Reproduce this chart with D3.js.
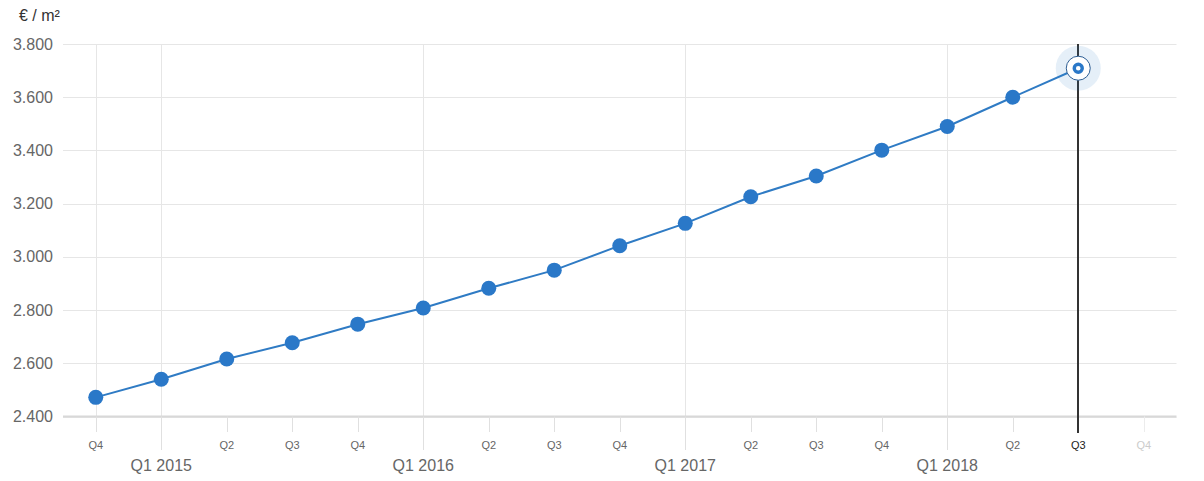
<!DOCTYPE html>
<html>
<head>
<meta charset="utf-8">
<script src="https://cdn.jsdelivr.net/npm/d3@7"></script>
<style>
  html, body { margin: 0; padding: 0; background: #fff; }
  svg { display: block; font-family: "Liberation Sans", Arial, sans-serif; }
</style>
</head>
<body>
<svg id="chart" width="1204" height="481"></svg>
<script>
// Data
const quarters = ["Q4 2014","Q1 2015","Q2 2015","Q3 2015","Q4 2015","Q1 2016","Q2 2016","Q3 2016","Q4 2016","Q1 2017","Q2 2017","Q3 2017","Q4 2017","Q1 2018","Q2 2018","Q3 2018","Q4 2018"];
const values = [2472, 2540, 2616, 2677, 2747, 2808, 2882, 2950, 3042, 3126, 3226, 3304, 3401, 3490, 3600, 3709];
const yTicks = [2400, 2600, 2800, 3000, 3200, 3400, 3600, 3800];
const yTitle = "€ / m²";
const highlighted = "Q3 2018";

const svg = d3.select("#chart");
const plotLeft = 63, plotRight = 1176.5, plotTop = 44, plotBottom = 416.5;

const x = d3.scalePoint().domain(quarters).range([plotLeft, plotRight]).padding(0.5);
const y = d3.scaleLinear().domain([2400, 3800]).range([plotBottom, plotTop]);
const fmt = v => d3.format(",")(v).replace(/,/g, ".");

// Horizontal grid
svg.append("g").selectAll("line").data(yTicks).join("line")
  .attr("x1", plotLeft).attr("x2", plotRight)
  .attr("y1", d => Math.round(y(d)) + 0.5).attr("y2", d => Math.round(y(d)) + 0.5)
  .attr("stroke", "#e6e6e6").attr("stroke-width", 1);

// Vertical grid at year starts and first category
const isQ1 = q => q.startsWith("Q1");
const gridCats = quarters.filter((q, i) => isQ1(q) || i === 0);
svg.append("g").selectAll("line").data(gridCats).join("line")
  .attr("x1", d => Math.round(x(d)) + 0.5).attr("x2", d => Math.round(x(d)) + 0.5)
  .attr("y1", plotTop).attr("y2", plotBottom)
  .attr("stroke", "#e6e6e6").attr("stroke-width", 1);

// Y axis labels
svg.append("g").selectAll("text").data(yTicks).join("text")
  .attr("x", 53).attr("y", d => y(d)).attr("dy", "0.35em")
  .attr("text-anchor", "end").attr("font-size", 16).attr("fill", "#666")
  .text(fmt);

// Y title
svg.append("text").attr("x", 19).attr("y", 21)
  .attr("font-size", 16).attr("fill", "#333").text(yTitle);

// X axis line
svg.append("line").attr("x1", plotLeft).attr("x2", plotRight)
  .attr("y1", plotBottom).attr("y2", plotBottom)
  .attr("stroke", "#d8d8d8").attr("stroke-width", 2);

// X ticks
svg.append("g").selectAll("line").data(quarters).join("line")
  .attr("x1", d => Math.round(x(d)) + 0.5).attr("x2", d => Math.round(x(d)) + 0.5)
  .attr("y1", plotBottom).attr("y2", d => isQ1(d) ? 450 : 432)
  .attr("stroke", d => d === "Q4 2018" ? "#ececec" : "#e0e0e0").attr("stroke-width", 1);

// Quarter labels
svg.append("g").selectAll("text").data(quarters.filter(q => !isQ1(q))).join("text")
  .attr("x", d => x(d)).attr("y", 449)
  .attr("text-anchor", "middle").attr("font-size", 11)
  .attr("fill", d => d === highlighted ? "#222" : (d === "Q4 2018" ? "#ccc" : "#666"))
  .text(d => d.split(" ")[0]);

// Year labels
svg.append("g").selectAll("text").data(quarters.filter(isQ1)).join("text")
  .attr("x", d => x(d)).attr("y", 471)
  .attr("text-anchor", "middle").attr("font-size", 16).attr("fill", "#666")
  .text(d => d);

// Crosshair
svg.append("line")
  .attr("x1", Math.round(x(highlighted))).attr("x2", Math.round(x(highlighted)))
  .attr("y1", plotTop).attr("y2", 433)
  .attr("stroke", "#333").attr("stroke-width", 2);

// Line
svg.append("path").datum(values)
  .attr("d", d3.line().x((d, i) => x(quarters[i])).y(d => y(d)))
  .attr("fill", "none").attr("stroke", "#2f7bc4").attr("stroke-width", 2);

// Markers
svg.append("g").selectAll("circle").data(values.map((v, i) => ({q: quarters[i], v})).filter(d => d.q !== highlighted))
  .join("circle")
  .attr("cx", d => x(d.q)).attr("cy", d => y(d.v)).attr("r", 7.5)
  .attr("fill", "#2a78c8");

// Highlighted marker
const hi = values[quarters.indexOf(highlighted)];
const hx = x(highlighted), hy = y(hi);
svg.append("circle").attr("cx", hx).attr("cy", hy).attr("r", 22.5)
  .attr("fill", "#2a78c8").attr("fill-opacity", 0.12);
svg.append("circle").attr("cx", hx).attr("cy", hy).attr("r", 12)
  .attr("fill", "#fff").attr("stroke", "#2d5e94").attr("stroke-width", 1);
svg.append("circle").attr("cx", hx).attr("cy", hy).attr("r", 4)
  .attr("fill", "#fff").attr("stroke", "#2a78c8").attr("stroke-width", 3.4);
</script>
</body>
</html>
